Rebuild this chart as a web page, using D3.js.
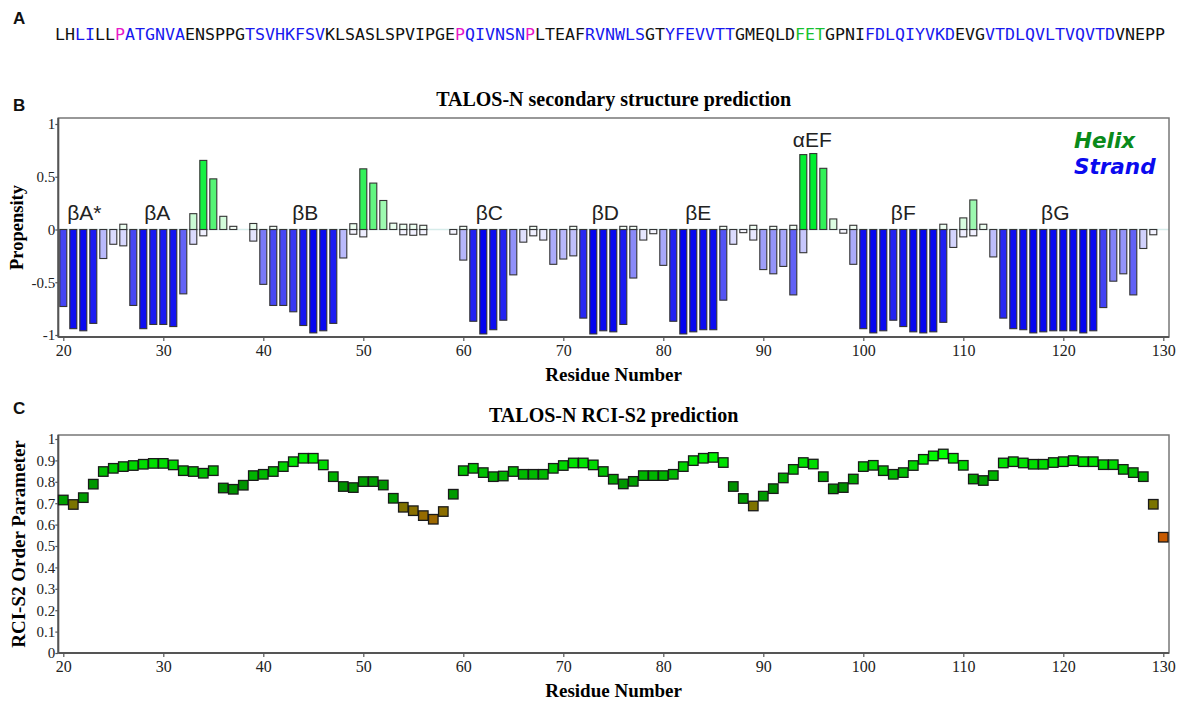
<!DOCTYPE html>
<html><head><meta charset="utf-8">
<script src="https://cdn.jsdelivr.net/npm/d3@7"></script>
<style>
html,body{margin:0;padding:0;background:#fff;}
svg{display:block;}
</style></head>
<body>
<svg id="chart" width="1182" height="702"></svg>
<script>
// ---------- DATA ----------
const seqSegments = ["LH","LI","LL","P","ATGNVA","ENSPPG","TSVHKFSV","KLSASLSPVIPGE","P","QIVNSN","P","LTEAF","RVNWLS","GT","YFEVVTT","GMEQLD","FET","GPNI","FDLQIYVKD","EVG","VTDLQVLTVQVTD","VNEPP"];
const seqTypes    = ["coil","strand","coil","pro","strand","coil","strand","coil","pro","strand","pro","coil","strand","coil","strand","coil","helix","coil","strand","coil","strand","coil"];

const firstResidueB = 20, lastResidueB = 129;
const helixProp = [
  null,null,null,null,null,null,0.05,null,null,null,
  null,null,null,0.15,0.655,0.48,0.125,0.03,null,0.057,
  null,0.03,null,null,null,null,null,null,null,0.055,
  0.575,0.44,0.275,0.06,0.05,0.05,0.04,null,null,null,
  0.03,null,null,null,null,null,null,0.03,null,null,
  null,0.03,null,null,null,null,0.03,0.03,null,null,
  null,null,null,null,null,null,0.03,null,null,0.04,
  null,0.03,null,0.04,0.71,0.72,0.58,0.1,null,0.04,
  null,null,null,null,null,null,null,null,0.05,null,
  0.11,0.28,0.05,null,null,null,null,null,null,null,
  null,null,null,null,null,null,null,null,null,null
];
const strandProp = [
  -0.73,-0.94,-0.96,-0.89,-0.275,-0.14,-0.155,-0.72,-0.94,-0.9,
  -0.9,-0.92,-0.61,-0.14,-0.06,null,null,null,null,-0.11,
  -0.52,-0.72,-0.72,-0.78,-0.91,-0.98,-0.96,-0.89,-0.27,-0.045,
  -0.07,null,null,null,-0.05,-0.055,-0.05,null,null,-0.045,
  -0.29,-0.87,-0.99,-0.95,-0.86,-0.43,-0.12,-0.06,-0.1,-0.33,
  -0.28,-0.25,-0.84,-0.99,-0.96,-0.97,-0.9,-0.46,-0.1,-0.04,
  -0.34,-0.87,-0.99,-0.97,-0.95,-0.95,-0.67,-0.14,-0.03,-0.1,
  -0.38,-0.42,-0.35,-0.62,-0.22,null,null,null,-0.035,-0.33,
  -0.94,-0.98,-0.96,-0.86,-0.92,-0.97,-0.98,-0.97,-0.88,-0.17,
  -0.07,-0.06,null,-0.26,-0.84,-0.94,-0.95,-0.98,-0.97,-0.96,
  -0.96,-0.96,-0.98,-0.96,-0.74,-0.49,-0.42,-0.62,-0.18,-0.05
];
const ssLabels    = ["βA*","βA","βB","βC","βD","βE","αEF","βF","βG"];
const ssLabelRes  = [22.1, 29.4, 44.2, 62.6, 74.2, 83.5, 94.9, 104.0, 119.2];
const ssLabelVal  = [0.09, 0.09, 0.09, 0.09, 0.09, 0.09, 0.78, 0.09, 0.09];
const legendLabels = ["Helix","Strand"];

const firstResidueC = 20, lastResidueC = 130;
const s2Values = [
  0.715,0.694,0.726,0.789,0.848,0.863,0.871,0.876,0.882,0.886,
  0.886,0.879,0.852,0.848,0.84,0.852,0.771,0.765,0.784,0.829,
  0.835,0.848,0.871,0.894,0.91,0.91,0.879,0.824,0.778,0.773,
  0.801,0.801,0.785,0.723,0.681,0.665,0.642,0.625,0.661,0.742,
  0.852,0.863,0.843,0.824,0.827,0.848,0.835,0.835,0.835,0.863,
  0.876,0.888,0.888,0.879,0.848,0.812,0.79,0.802,0.829,0.829,
  0.829,0.835,0.871,0.899,0.91,0.914,0.89,0.778,0.722,0.687,
  0.733,0.768,0.818,0.858,0.89,0.883,0.824,0.767,0.773,0.813,
  0.871,0.877,0.852,0.835,0.843,0.876,0.905,0.921,0.93,0.91,
  0.877,0.813,0.806,0.829,0.888,0.894,0.888,0.882,0.882,0.89,
  0.894,0.899,0.894,0.894,0.88,0.88,0.858,0.843,0.824,0.695,
  0.541
];
const xTicks  = [20,30,40,50,60,70,80,90,100,110,120,130];
const yTicksB = [-1,-0.5,0,0.5,1];
const yTicksC = [0,0.1,0.2,0.3,0.4,0.5,0.6,0.7,0.8,0.9,1];

// ---------- DRAW ----------
const svg = d3.select("#chart");
const serif = "'Liberation Serif','Times New Roman',serif";
const sans = "'Liberation Sans',Arial,sans-serif";

const frameL = 58.3, frameR = 1169;
const x = d3.scaleLinear().domain([20,130]).range([63.3,1163.3]);

// Panel labels
[["A",13,24],["B",13,111],["C",13,414]].forEach(([t,px,py])=>{
  svg.append("text").attr("x",px).attr("y",py).text(t)
    .attr("font-family",sans).attr("font-weight","bold").attr("font-size",17).attr("fill","#111");
});

// Sequence
const seqColor = {coil:"#111111", strand:"#1818ee", pro:"#e818c8", helix:"#18c030"};
const seqText = svg.append("text").attr("x",55).attr("y",40)
  .attr("font-family","'DejaVu Sans Mono',monospace").attr("font-size",15)
  .attr("textLength",1110).attr("lengthAdjust","spacingAndGlyphs");
seqSegments.forEach((s,i)=>{
  seqText.append("tspan").text(s).attr("fill",seqColor[seqTypes[i]]);
});

// ---------- Panel B ----------
const topB = 118, botB = 337;
const yB = d3.scaleLinear().domain([-1,1]).range([335,124]);
const resB = d3.range(firstResidueB, lastResidueB+1);
const gB = svg.append("g");

gB.append("text").attr("x",(frameL+frameR)/2).attr("y",106).attr("text-anchor","middle")
  .attr("font-family",serif).attr("font-weight","bold").attr("font-size",20)
  .text("TALOS-N secondary structure prediction");

// zero line
gB.append("line").attr("x1",frameL).attr("x2",frameR).attr("y1",yB(0)).attr("y2",yB(0))
  .attr("stroke","#d6ecea").attr("stroke-width",1.5);

const blueC = d3.interpolateRgb("#ffffff","#0000f0");
const greenC = d3.interpolateRgb("#ffffff","#00ee30");
const bw = (x(1)-x(0))*0.7;

const strandData = resB.map((r,i)=>({r, v:strandProp[i]})).filter(d=>d.v!==null);
const helixData  = resB.map((r,i)=>({r, v:helixProp[i]})).filter(d=>d.v!==null);

gB.selectAll("rect.strand").data(strandData).join("rect").attr("class","strand")
  .attr("x",d=>x(d.r)-bw/2).attr("width",bw)
  .attr("y",yB(0)).attr("height",d=>yB(d.v)-yB(0))
  .attr("fill",d=>blueC(Math.min(1,Math.abs(d.v))))
  .attr("stroke","#333").attr("stroke-width",1.1);
gB.selectAll("rect.helix").data(helixData).join("rect").attr("class","helix")
  .attr("x",d=>x(d.r)-bw/2).attr("width",bw)
  .attr("y",d=>yB(d.v)).attr("height",d=>yB(0)-yB(d.v))
  .attr("fill",d=>greenC(Math.min(1,d.v/0.72)))
  .attr("stroke","#333").attr("stroke-width",1.1);

// structure labels
ssLabels.forEach((t,i)=>{
  gB.append("text").attr("x",x(ssLabelRes[i])).attr("y",yB(ssLabelVal[i]))
    .attr("text-anchor","middle").attr("font-family",sans).attr("font-size",21)
    .attr("fill","#222").text(t);
});
// legend
const legendColors = ["#0a8a1a","#0a0aee"];
legendLabels.forEach((t,i)=>{
  gB.append("text").attr("x",1074).attr("y",148+i*26).text(t)
    .attr("font-family","'DejaVu Sans',Verdana,sans-serif").attr("font-weight","bold")
    .attr("font-style","italic").attr("font-size",21.5).attr("fill",legendColors[i]);
});

// frame
gB.append("rect").attr("x",frameL).attr("y",topB).attr("width",frameR-frameL).attr("height",botB-topB)
  .attr("fill","none").attr("stroke","#777").attr("stroke-width",1.5);

function styleAxis(g){
  g.select(".domain").remove();
  g.selectAll(".tick line").attr("stroke","#555").attr("stroke-width",1.2);
  g.selectAll(".tick text").attr("font-family",serif).attr("font-size",16).attr("fill","#222");
}
const xAxisB = gB.append("g").attr("transform",`translate(0,${botB})`)
  .call(d3.axisBottom(x).tickValues(xTicks).tickSize(4).tickPadding(4).tickFormat(d3.format("d")));
styleAxis(xAxisB);
const yAxisB = gB.append("g").attr("transform",`translate(${frameL},0)`)
  .call(d3.axisLeft(yB).tickValues(yTicksB).tickSize(3).tickPadding(0).tickFormat(d=>String(d)));
styleAxis(yAxisB);
yAxisB.selectAll(".tick text").attr("font-size",15);
gB.append("line").attr("x1",frameL).attr("x2",frameR).attr("y1",botB).attr("y2",botB).attr("stroke","#555").attr("stroke-width",2);
gB.append("line").attr("x1",frameL).attr("x2",frameL).attr("y1",topB).attr("y2",botB).attr("stroke","#555").attr("stroke-width",2);

gB.append("text").attr("x",(frameL+frameR)/2).attr("y",381).attr("text-anchor","middle")
  .attr("font-family",serif).attr("font-weight","bold").attr("font-size",19).text("Residue Number");
gB.append("text").attr("transform",`translate(23,${(topB+botB)/2}) rotate(-90)`).attr("text-anchor","middle")
  .attr("font-family",serif).attr("font-weight","bold").attr("font-size",18.5).text("Propensity");

// ---------- Panel C ----------
const topC = 435, botC = 653;
const yC = d3.scaleLinear().domain([0,1]).range([653,439]);
const resC = d3.range(firstResidueC, lastResidueC+1);
const gC = svg.append("g");

gC.append("text").attr("x",(frameL+frameR)/2).attr("y",422).attr("text-anchor","middle")
  .attr("font-family",serif).attr("font-weight","bold").attr("font-size",20)
  .text("TALOS-N RCI-S2 prediction");

gC.append("rect").attr("x",frameL).attr("y",topC).attr("width",frameR-frameL).attr("height",botC-topC)
  .attr("fill","none").attr("stroke","#777").attr("stroke-width",1.5);

const xAxisC = gC.append("g").attr("transform",`translate(0,${botC})`)
  .call(d3.axisBottom(x).tickValues(xTicks).tickSize(4).tickPadding(4).tickFormat(d3.format("d")));
styleAxis(xAxisC);
const yAxisC = gC.append("g").attr("transform",`translate(${frameL},0)`)
  .call(d3.axisLeft(yC).tickValues(yTicksC).tickSize(3).tickPadding(0).tickFormat(d=>String(d)));
styleAxis(yAxisC);
yAxisC.selectAll(".tick text").attr("font-size",15);
gC.append("line").attr("x1",frameL).attr("x2",frameR).attr("y1",botC).attr("y2",botC).attr("stroke","#555").attr("stroke-width",2);
gC.append("line").attr("x1",frameL).attr("x2",frameL).attr("y1",topC).attr("y2",botC).attr("stroke","#555").attr("stroke-width",2);

const s2Color = d3.scaleLinear()
  .domain([0.54,0.695,0.70,0.78,0.93])
  .range(["#c85a00","#7a7400","#00a400","#009000","#00ff00"]).clamp(true);
const sq = 9.5;
gC.selectAll("rect.s2").data(resC.map((r,i)=>({r, v:s2Values[i]}))).join("rect").attr("class","s2")
  .attr("x",d=>x(d.r)-sq/2).attr("y",d=>yC(d.v)-sq/2).attr("width",sq).attr("height",sq)
  .attr("fill",d=>s2Color(d.v)).attr("stroke","#1a1a1a").attr("stroke-width",1.3);

gC.append("text").attr("x",(frameL+frameR)/2).attr("y",697).attr("text-anchor","middle")
  .attr("font-family",serif).attr("font-weight","bold").attr("font-size",19).text("Residue Number");
gC.append("text").attr("transform",`translate(25,${(topC+botC)/2}) rotate(-90)`).attr("text-anchor","middle")
  .attr("font-family",serif).attr("font-weight","bold").attr("font-size",19).text("RCI-S2 Order Parameter");
</script>
</body></html>
